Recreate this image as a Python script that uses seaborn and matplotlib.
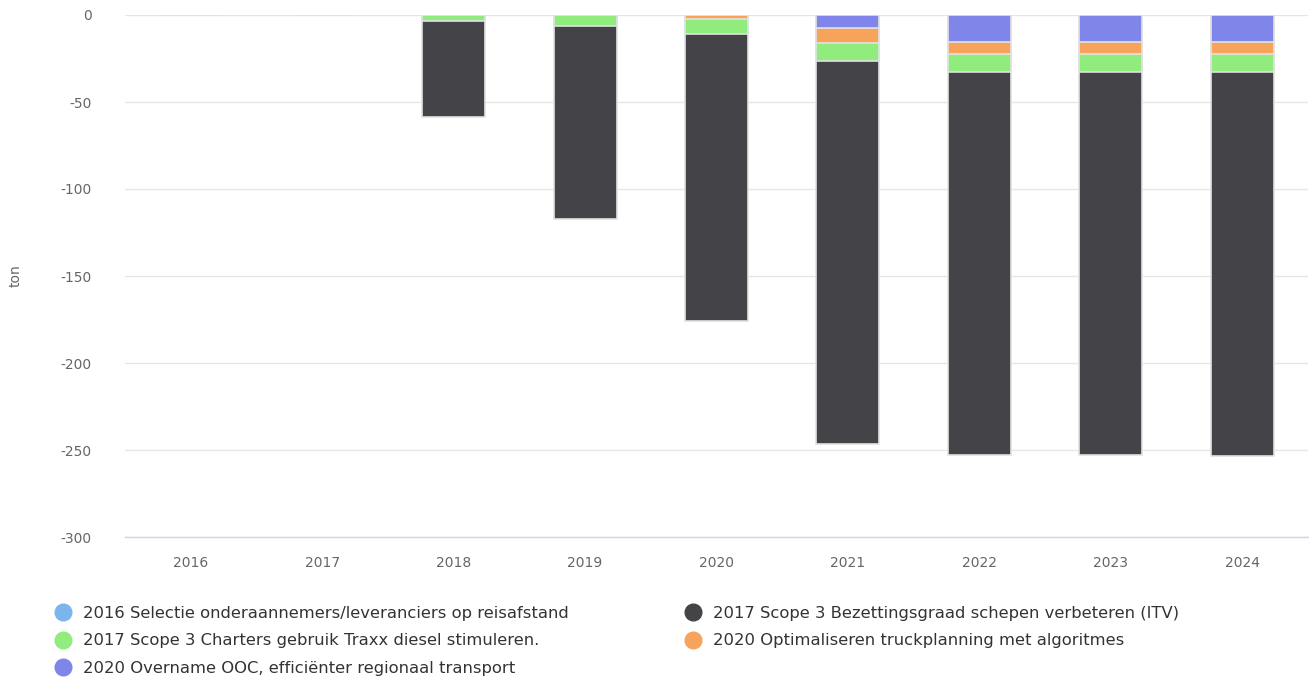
import matplotlib
matplotlib.use("Agg")
import matplotlib.pyplot as plt
from matplotlib.lines import Line2D
import seaborn as sns
import numpy as np
import pandas as pd

years = ['2016', '2017', '2018', '2019', '2020', '2021', '2022', '2023', '2024']
selectie = [0, 0, 0, 0, 0, 0, 0, 0, 0]
bezetting = [0, 0, -55, -111, -165, -220, -220.2, -220.2, -221]
charters = [0, 0, -3.5, -6.3, -8.7, -10.5, -10.3, -10.3, -10.3]
optimaliseren = [0, 0, 0, 0, -2.3, -8.5, -6.9, -6.9, -6.9]
overname = [0, 0, 0, 0, 0, -7.5, -15.5, -15.5, -15.5]

labels = [
    '2016 Selectie onderaannemers/leveranciers op reisafstand',
    '2017 Scope 3 Bezettingsgraad schepen verbeteren (ITV)',
    '2017 Scope 3 Charters gebruik Traxx diesel stimuleren.',
    '2020 Optimaliseren truckplanning met algoritmes',
    '2020 Overname OOC, efficiënter regionaal transport',
]
colors = ['#7cb5ec', '#434348', '#90ed7d', '#f7a35c', '#8085e9']

sns.set_theme(style="white")
plt.rcParams['font.family'] = ['DejaVu Sans']

fig = plt.figure(figsize=(13.09, 6.79), dpi=100)
ax = fig.add_axes([125/1309, (679-537)/679, (1308-125)/1309, (537-15)/679])

# stacking order from zero outward: overname, optimaliseren, charters, bezetting
stack = [(overname, colors[4]), (optimaliseren, colors[3]), (charters, colors[2]), (bezetting, colors[1])]
cums = []
run = np.zeros(len(years))
for vals, col in stack:
    run = run + np.array(vals, dtype=float)
    cums.append((run.copy(), col))

# draw longest first, overlay shorter cumulative bars
for cum, col in reversed(cums):
    df = pd.DataFrame({'year': years, 'value': cum})
    sns.barplot(data=df, x='year', y='value', order=years, color=col, width=0.48,
                edgecolor='#e2e2e2', linewidth=1.2, saturation=1, ax=ax, zorder=3)

ax.set_ylim(-300, 0)
ax.set_xlim(-0.5, 8.5)
ax.set_yticks(np.arange(-300, 1, 50))
ax.set_yticklabels([str(v) for v in range(-300, 1, 50)])
ax.grid(axis='y', color='#e6e6e6', linewidth=1, zorder=0)
ax.set_axisbelow(True)
for s in ['top', 'right', 'left']:
    ax.spines[s].set_visible(False)
ax.spines['bottom'].set_color('#ccd6eb')
ax.spines['bottom'].set_linewidth(1)
ax.spines['bottom'].set_zorder(5)
ax.tick_params(axis='y', length=0, pad=24, labelsize=10, labelcolor='#666666')
ax.tick_params(axis='x', length=0, pad=14, labelsize=10, labelcolor='#666666')
ax.set_xlabel('')
ax.set_ylabel('ton', color='#666666', fontsize=10)
ax.yaxis.set_label_coords(-102/1183, 0.5)

def handle(c):
    return Line2D([0], [0], marker='o', color='none', markerfacecolor=c,
                  markeredgecolor=c, markersize=12)

common = dict(loc='upper left', frameon=False, fontsize=11.8, labelspacing=0.78,
              handletextpad=0.75, handlelength=1.0, borderaxespad=0,
              labelcolor='#333333')
leg1 = fig.legend([handle(colors[0]), handle(colors[2]), handle(colors[4])],
                  [labels[0], labels[2], labels[4]],
                  bbox_to_anchor=(48/1309, 1 - 599/679), **common)
leg2 = fig.legend([handle(colors[1]), handle(colors[3])],
                  [labels[1], labels[3]],
                  bbox_to_anchor=(678/1309, 1 - 599/679), **common)

fig.savefig('out.png', dpi=100)
